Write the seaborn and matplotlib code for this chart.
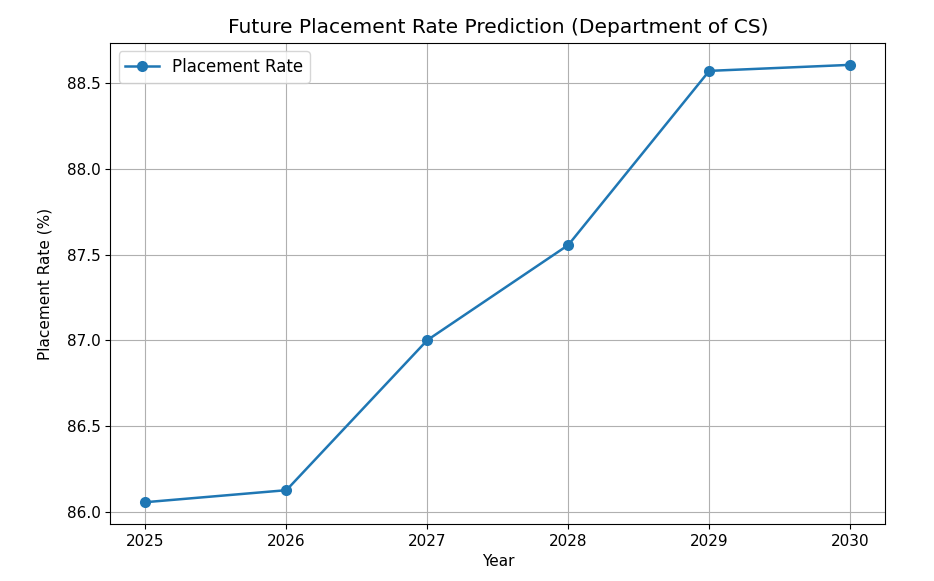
import matplotlib
matplotlib.use("Agg")
import matplotlib.pyplot as plt
import seaborn as sns
import pandas as pd

years = [2025, 2026, 2027, 2028, 2029, 2030]
rates = [86.058, 86.128, 87.002, 87.556, 88.570, 88.605]

df = pd.DataFrame({"Year": years, "Placement Rate": rates})

fig = plt.figure(figsize=(9.34, 5.81), dpi=100)
ax = fig.add_axes([0.118, 0.098, 0.830, 0.828])
sns.lineplot(data=df, x="Year", y="Placement Rate", marker="o", markersize=8,
             markeredgewidth=0, color="#1f77b4", linewidth=1.8,
             label="Placement Rate", ax=ax)
ax.set_title("Future Placement Rate Prediction (Department of CS)", fontsize=14.5, pad=7)
ax.set_xlabel("Year", fontsize=11)
ax.set_ylabel("Placement Rate (%)", fontsize=11, labelpad=10)
ax.tick_params(labelsize=11)
ax.grid(True)
ax.legend(loc="upper left", fontsize=12)
fig.savefig("out.png", dpi=100)
